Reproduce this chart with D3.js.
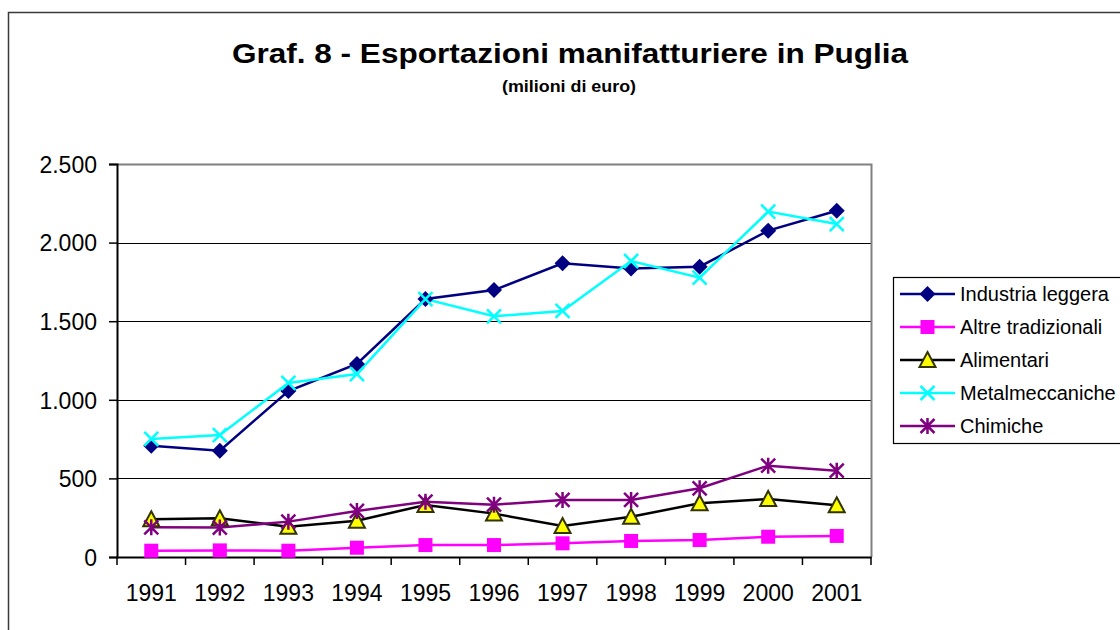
<!DOCTYPE html>
<html>
<head>
<meta charset="utf-8">
<script src="https://cdnjs.cloudflare.com/ajax/libs/d3/7.8.5/d3.min.js"></script>
<style>
  body { margin: 0; background: #fff; }
  svg { display: block; font-family: "Liberation Sans", Arial, sans-serif; }
</style>
</head>
<body>
<div id="chart"></div>
<script>
// data
var years = ["1991", "1992", "1993", "1994", "1995", "1996", "1997", "1998", "1999", "2000", "2001"];
var industriaLeggera = [708, 676, 1056, 1228, 1641, 1698, 1868, 1836, 1847, 2076, 2203];
var altreTradizionali = [40, 42, 40, 59, 76, 76, 87, 102, 108, 129, 134];
var alimentari = [240, 246, 193, 231, 331, 276, 197, 256, 342, 369, 329];
var metalmeccaniche = [751, 776, 1107, 1164, 1641, 1531, 1565, 1883, 1777, 2197, 2118];
var chimiche = [189, 187, 225, 293, 352, 333, 363, 363, 437, 581, 549];
var yTicks = [0, 500, 1000, 1500, 2000, 2500];

var series = [
  { name: "Industria leggera", values: industriaLeggera, color: "#000080", marker: "diamond" },
  { name: "Altre tradizionali", values: altreTradizionali, color: "#ff00ff", marker: "square" },
  { name: "Alimentari", values: alimentari, color: "#000000", marker: "triangle" },
  { name: "Metalmeccaniche", values: metalmeccaniche, color: "#00ffff", marker: "x" },
  { name: "Chimiche", values: chimiche, color: "#800080", marker: "star" }
];

var W = 1120, H = 630;
var plot = { left: 117, top: 164, right: 871, bottom: 557 };

var svg = d3.select("#chart")
  .append("svg")
  .attr("width", W)
  .attr("height", H);

// outer chart border (runs off the right and bottom edge)
svg.append("rect")
  .attr("x", 8.5).attr("y", 12.5)
  .attr("width", W + 20).attr("height", H + 20)
  .attr("fill", "none")
  .attr("stroke", "#3a3a3a")
  .attr("stroke-width", 1.5);

// titles (the original font is a bit wider than Liberation, so stretch to width)
svg.append("text")
  .attr("x", 570).attr("y", 63)
  .attr("text-anchor", "middle")
  .attr("font-size", 28).attr("font-weight", "bold")
  .attr("textLength", 676).attr("lengthAdjust", "spacingAndGlyphs")
  .text("Graf. 8 - Esportazioni manifatturiere in Puglia");
svg.append("text")
  .attr("x", 569).attr("y", 92)
  .attr("text-anchor", "middle")
  .attr("font-size", 16).attr("font-weight", "bold")
  .attr("textLength", 134).attr("lengthAdjust", "spacingAndGlyphs")
  .text("(milioni di euro)");

// scales
var xScale = d3.scaleBand()
  .domain(years)
  .range([plot.left, plot.right]);

var yScale = d3.scaleLinear()
  .domain([0, 2500])
  .range([plot.bottom, plot.top]);

function xc(i) { return xScale(years[i]) + xScale.bandwidth() / 2; }

// gridlines
svg.append("g")
  .selectAll("line")
  .data(yTicks.slice(1, -1))
  .enter()
  .append("line")
  .attr("x1", plot.left).attr("x2", plot.right)
  .attr("y1", function (d) { return Math.round(yScale(d)) + 0.5; })
  .attr("y2", function (d) { return Math.round(yScale(d)) + 0.5; })
  .attr("stroke", "#000")
  .attr("stroke-width", 1);

// plot area frame (top/right gray)
svg.append("path")
  .attr("d", "M" + plot.left + "," + (plot.top + 0.5) + "H" + (plot.right + 0.5) + "V" + plot.bottom)
  .attr("fill", "none")
  .attr("stroke", "#808080")
  .attr("stroke-width", 2);

// y axis
var yAxis = svg.append("g")
  .attr("transform", "translate(" + plot.left + ",0)")
  .call(d3.axisLeft(yScale)
    .tickValues(yTicks)
    .tickSize(8)
    .tickPadding(12)
    .tickFormat(function (d) { return d3.format(",")(d).replace(/,/g, "."); }));
yAxis.select(".domain").attr("stroke", "#000").attr("stroke-width", 2);
yAxis.selectAll(".tick line").attr("stroke", "#000").attr("stroke-width", 1.5);
yAxis.selectAll("text")
  .attr("font-size", 23).attr("font-family", "Liberation Sans, Arial, sans-serif")
  .attr("fill", "#000").attr("dy", "0.36em");

// x axis with ticks between categories
var xAxis = svg.append("g")
  .attr("transform", "translate(0," + plot.bottom + ")")
  .call(d3.axisBottom(xScale).tickSize(0).tickPadding(28));
xAxis.select(".domain").attr("stroke", "#000").attr("stroke-width", 2);
xAxis.selectAll("text")
  .attr("font-size", 23).attr("font-family", "Liberation Sans, Arial, sans-serif")
  .attr("fill", "#000");
xAxis.selectAll(".boundary")
  .data(d3.range(years.length + 1))
  .enter()
  .append("line")
  .attr("x1", function (i) { return plot.left + i * xScale.step(); })
  .attr("x2", function (i) { return plot.left + i * xScale.step(); })
  .attr("y1", 0).attr("y2", 8)
  .attr("stroke", "#000").attr("stroke-width", 1.5);

// marker drawing
function drawMarker(g, type, color, size) {
  var s = size / 2;
  if (type === "diamond") {
    g.append("path")
      .attr("d", "M0," + (-s - 1) + "L" + (s + 1) + ",0L0," + (s + 1) + "L" + (-s - 1) + ",0Z")
      .attr("fill", color);
  } else if (type === "square") {
    g.append("rect")
      .attr("x", -s).attr("y", -s).attr("width", size).attr("height", size)
      .attr("fill", color);
  } else if (type === "triangle") {
    g.append("path")
      .attr("d", "M0," + (-s - 1) + "L" + (s + 1) + "," + s + "L" + (-s - 1) + "," + s + "Z")
      .attr("fill", "#ffff00")
      .attr("stroke", "#333300")
      .attr("stroke-width", 2);
  } else if (type === "x") {
    g.append("path")
      .attr("d", "M" + (-s) + "," + (-s) + "L" + s + "," + s + "M" + s + "," + (-s) + "L" + (-s) + "," + s)
      .attr("stroke", color).attr("stroke-width", 2.5);
  } else if (type === "star") {
    g.append("path")
      .attr("d", "M" + (-s) + "," + (-s) + "L" + s + "," + s + "M" + s + "," + (-s) + "L" + (-s) + "," + s +
        "M0," + (-s - 1) + "L0," + (s + 1))
      .attr("stroke", color).attr("stroke-width", 2.5);
  }
}

var line = d3.line()
  .x(function (d, i) { return xc(i); })
  .y(function (d) { return yScale(d); });

series.forEach(function (s) {
  svg.append("path")
    .datum(s.values)
    .attr("d", line)
    .attr("fill", "none")
    .attr("stroke", s.color)
    .attr("stroke-width", 2.5);
});

series.forEach(function (s) {
  s.values.forEach(function (v, i) {
    var g = svg.append("g")
      .attr("transform", "translate(" + xc(i) + "," + yScale(v) + ")");
    drawMarker(g, s.marker, s.color, 14);
  });
});

// legend
var legend = svg.append("g");
legend.append("rect")
  .attr("x", 893.5).attr("y", 277.5)
  .attr("width", 250).attr("height", 166)
  .attr("fill", "#fff")
  .attr("stroke", "#000")
  .attr("stroke-width", 1.2);

series.forEach(function (s, i) {
  var y = 294 + i * 33;
  var g = legend.append("g");
  g.append("line")
    .attr("x1", 900).attr("x2", 955)
    .attr("y1", y).attr("y2", y)
    .attr("stroke", s.color).attr("stroke-width", 2.5);
  var m = g.append("g").attr("transform", "translate(927.5," + y + ")");
  drawMarker(m, s.marker, s.color, 14);
  g.append("text")
    .attr("x", 960).attr("y", y)
    .attr("dy", "0.36em")
    .attr("font-size", 20)
    .text(s.name);
});
</script>
</body>
</html>
